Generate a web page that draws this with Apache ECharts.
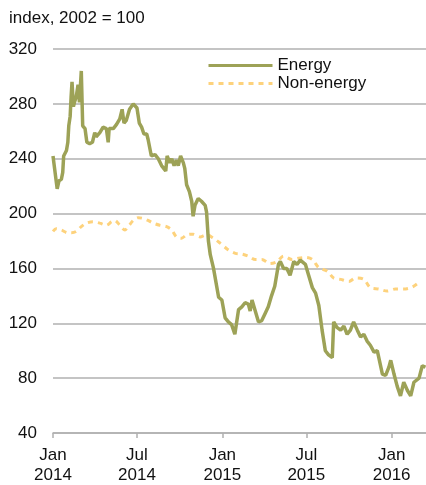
<!DOCTYPE html>
<html>
<head>
<meta charset="utf-8">
<script src="https://cdn.jsdelivr.net/npm/echarts@6/dist/echarts.min.js"></script>
<style>
  html, body { margin: 0; padding: 0; background: #fff; }
  #chart { width: 426px; height: 485px; }
</style>
</head>
<body>
<div id="chart"></div>
<script>
// 能源 / 非能源 指数 (2002 = 100)
var energyDates = [
  '2014-01-01','2014-01-05','2014-01-10','2014-01-14','2014-01-19','2014-01-22','2014-01-24','2014-01-30',
  '2014-02-02','2014-02-04','2014-02-07','2014-02-09','2014-02-11','2014-02-14','2014-02-17','2014-02-20',
  '2014-02-24','2014-02-27','2014-03-03','2014-03-06','2014-03-11','2014-03-15','2014-03-21','2014-03-27',
  '2014-04-01','2014-04-04','2014-04-12','2014-04-19','2014-04-26','2014-04-30','2014-05-02','2014-05-11',
  '2014-05-18','2014-05-25','2014-05-30','2014-06-03','2014-06-08','2014-06-15','2014-06-23','2014-06-26',
  '2014-07-01','2014-07-06','2014-07-11','2014-07-16','2014-07-22','2014-07-25','2014-08-01','2014-08-09',
  '2014-08-16','2014-08-23','2014-09-01','2014-09-04','2014-09-10','2014-09-14','2014-09-19','2014-09-24',
  '2014-09-28','2014-10-03','2014-10-09','2014-10-12','2014-10-16','2014-10-22','2014-10-27','2014-10-30',
  '2014-11-03','2014-11-10','2014-11-17','2014-11-25','2014-11-28','2014-12-02','2014-12-06','2014-12-13',
  '2014-12-24','2014-12-31','2015-01-07','2015-01-14','2015-01-21','2015-01-28','2015-02-05','2015-02-12',
  '2015-02-19','2015-02-26','2015-03-02','2015-03-06','2015-03-13','2015-03-20','2015-03-27','2015-04-03',
  '2015-04-10','2015-04-17','2015-04-24','2015-05-02','2015-05-06','2015-05-13','2015-05-20','2015-05-27',
  '2015-06-04','2015-06-11','2015-06-18','2015-06-29','2015-07-06','2015-07-14','2015-07-21','2015-07-28',
  '2015-08-04','2015-08-11','2015-08-18','2015-08-26','2015-08-29','2015-09-05','2015-09-13','2015-09-20',
  '2015-09-27','2015-10-04','2015-10-11','2015-10-19','2015-10-26','2015-11-02','2015-11-09','2015-11-16',
  '2015-11-24','2015-12-01','2015-12-12','2015-12-19','2015-12-26','2015-12-30','2016-01-06','2016-01-13',
  '2016-01-20','2016-01-27','2016-02-04','2016-02-11','2016-02-18','2016-02-29','2016-03-07','2016-03-14'
];
var energyValues = [
  242, 241, 218, 224, 225, 230, 242, 246,
  252, 264, 271, 285, 296, 278, 282, 285,
  294, 281, 304, 264, 262, 252, 251, 252,
  259, 256, 259, 263, 262, 252, 262, 262,
  265, 269, 276, 266, 268, 276, 280, 280,
  277, 266, 263, 258, 258, 254, 242, 243,
  240, 235, 231, 242, 237, 240, 235, 239,
  235, 242, 237, 233, 221, 216, 209, 198,
  206, 211, 209, 206, 201, 180, 170, 160,
  139, 137, 124, 121, 119, 112, 130, 132,
  135, 134, 129, 137, 129, 121, 122, 127,
  132, 140, 147, 163, 165, 160, 160, 155,
  165, 163, 166, 163, 155, 146, 142, 133,
  115, 100, 97, 95, 121, 117, 115, 118,
  112, 115, 121, 115, 110, 112, 107, 104,
  99, 100, 83, 82, 88, 93, 83, 74,
  67, 77, 71, 67, 77, 80, 89, 88
];

var nonEnergyDates = [
  '2014-01-01','2014-01-08','2014-01-19','2014-02-02','2014-02-10','2014-02-20','2014-03-03','2014-03-14',
  '2014-03-28','2014-04-12','2014-04-26','2014-05-07','2014-05-14','2014-05-25','2014-06-05','2014-06-12',
  '2014-06-23','2014-07-04','2014-07-14','2014-07-25','2014-08-05','2014-08-19','2014-09-03','2014-09-14',
  '2014-09-24','2014-10-05','2014-10-16','2014-10-30','2014-11-14','2014-11-28','2014-12-13','2014-12-27',
  '2015-01-14','2015-01-29','2015-02-12','2015-02-26','2015-03-13','2015-03-27','2015-04-14','2015-04-29',
  '2015-05-13','2015-05-31','2015-06-14','2015-06-29','2015-07-14','2015-07-28','2015-08-15','2015-08-29',
  '2015-09-13','2015-10-01','2015-10-15','2015-11-02','2015-11-16','2015-12-04','2015-12-22','2016-01-09',
  '2016-01-27','2016-02-15','2016-03-04'
];
var nonEnergyValues = [
  187, 189, 188, 186, 186, 187, 190.5, 193,
  194, 193, 191.5, 194, 195, 191.5, 188, 190.5,
  195, 197, 196.5, 195, 193, 191.5, 190.5, 188,
  183, 182, 184.5, 185, 183, 184.5, 182, 178.5,
  173.5, 171, 170.5, 169, 166.5, 166.5, 163.5, 165,
  169, 166.5, 167.5, 168, 166.5, 160.5, 158, 153,
  152, 150.5, 153, 152, 146, 145, 143.5, 145,
  145, 146.5, 151
];

var tickDates = ['2014-01-01', '2014-07-01', '2015-01-01', '2015-07-01', '2016-01-01'];
var tickLabels = ['Jan\n2014', 'Jul\n2014', 'Jan\n2015', 'Jul\n2015', 'Jan\n2016'];

function toTime(s) {
  var p = s.split('-');
  return Date.UTC(+p[0], +p[1] - 1, +p[2]);
}
function pairs(dates, values) {
  return dates.map(function (d, i) { return [toTime(d), values[i]]; });
}
var tickTimes = tickDates.map(toTime);

var font = 'Arial, "Liberation Sans", sans-serif';
var chart = echarts.init(document.getElementById('chart'));

var option = {
  animation: false,
  backgroundColor: '#fff',
  title: {
    text: 'index, 2002 = 100',
    left: 4,
    top: 5,
    textStyle: { fontFamily: font, fontSize: 17, fontWeight: 'normal', color: '#111' }
  },
  legend: {
    orient: 'vertical',
    left: 202,
    top: 52,
    itemWidth: 64,
    itemHeight: 14,
    itemGap: 1,
    itemStyle: { opacity: 0 },
    lineStyle: { width: 3 },
    textStyle: { fontFamily: font, fontSize: 17, color: '#111' },
    data: ['Energy', 'Non-energy']
  },
  grid: { left: 53, right: 0, top: 49, bottom: 48, containLabel: false },
  xAxis: {
    type: 'value',
    min: toTime('2014-01-01'),
    max: toTime('2016-03-15'),
    axisLine: { show: true, lineStyle: { color: '#b0b0b0', width: 1.5 } },
    axisTick: { show: true, length: 5, customValues: tickTimes, lineStyle: { color: '#b0b0b0', width: 1.5 } },
    axisLabel: {
      customValues: tickTimes,
      margin: 12,
      lineHeight: 20,
      fontFamily: font,
      fontSize: 17,
      color: '#111',
      formatter: function (val) {
        var i = tickTimes.indexOf(val);
        return i >= 0 ? tickLabels[i] : '';
      }
    },
    splitLine: { show: false }
  },
  yAxis: {
    type: 'value',
    min: 40,
    max: 320,
    interval: 40,
    axisLine: { show: false },
    axisTick: { show: false },
    axisLabel: { margin: 16, fontFamily: font, fontSize: 17, color: '#111' },
    splitLine: { lineStyle: { color: '#b0b0b0', width: 1.5 } }
  },
  series: [
    {
      name: 'Energy',
      type: 'line',
      symbol: 'none',
      z: 3,
      lineStyle: { color: '#9da257', width: 3.5 },
      itemStyle: { color: '#9da257' },
      data: pairs(energyDates, energyValues)
    },
    {
      name: 'Non-energy',
      type: 'line',
      symbol: 'none',
      smooth: 0.3,
      z: 2,
      lineStyle: { color: '#fdd27c', width: 3, type: [5, 5] },
      itemStyle: { color: '#fdd27c' },
      data: pairs(nonEnergyDates, nonEnergyValues)
    }
  ]
};

chart.setOption(option);
window.addEventListener('resize', function () {
  chart.resize();
});
</script>
</body>
</html>
